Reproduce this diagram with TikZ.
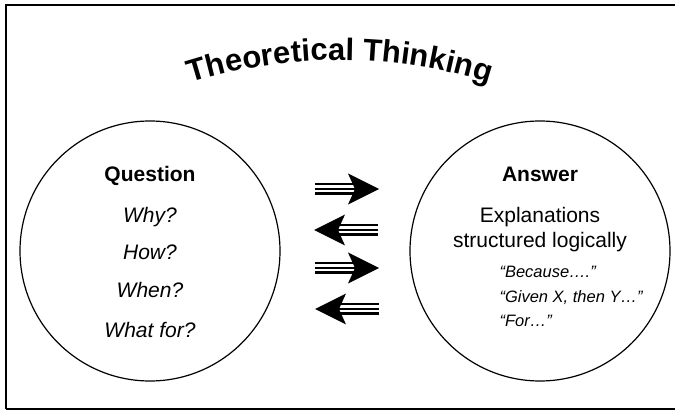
\documentclass[tikz,border=0pt]{standalone}
\usepackage{fontspec}
\setmainfont{Liberation Sans}
\usetikzlibrary{decorations.text}
\newcommand\TripleArrow[2]{% #1 = tail coordinate, #2 = 1 (right) or -1 (left)
\begin{scope}[shift={(#1)},xscale=#2]
\draw[line width=12pt] (0,0) -- (40,0);
\draw[line width=7pt,color=white] (0,0) -- (40,0);
\draw[line width=2.5pt] (0,0) -- (40,0);
\fill (64,0) -- (33,15.5) -- (40,0) -- (33,-15.5) -- cycle;
\end{scope}}

\begin{document}
\begin{tikzpicture}[x=1pt,y=1pt,
  ring/.style={circle,draw,line width=1.2pt,minimum size=260pt,inner sep=0pt},
  head/.style={anchor=base,font=\bfseries\fontsize{21}{25}\selectfont},
  ask/.style={anchor=base,font=\itshape\fontsize{21}{25}\selectfont},
  quote/.style={anchor=base west,font=\itshape\fontsize{16.5}{20}\selectfont}]
\useasboundingbox (0,0) rectangle (675,410);
% Drawing frame (right side runs off the page)
\draw[line width=2pt] (6,1.5) -- (6,405) -- (675,405);
\draw[line width=2pt] (6,1.5) -- (675,1.5);
% Title on an arc
\coordinate (titlec) at (340,-145);
\path[decorate,decoration={text along path,text align=center,
  text={|\bfseries\fontsize{31}{36}\selectfont|Theoretical Thinking}}]
  (titlec) ++(115:495) arc[start angle=115,end angle=65,radius=495];
% Drawing circles
\node[ring] (question) at (150,159) {};
\node[ring] (answer) at (540,159) {};
% Left circle: questions
\node[head] (qhead) at (150,228) {Question};
\node[ask] (why) at (150,187) {Why?};
\node[ask] (how) at (150,150) {How?};
\node[ask] (when) at (150,112) {When?};
\node[ask] (whatfor) at (150,73) {What for?};
% Right circle: answers
\node[head] (ahead) at (540,228) {Answer};
\node[anchor=base,font=\fontsize{21}{25}\selectfont] (expl) at (540,187) {Explanations};
\node[anchor=base,font=\fontsize{21}{25}\selectfont] (struct) at (540,162) {structured logically};
\node[quote] (because) at (496,132) {“Because….”};
\node[quote] (given) at (496,107) {“Given X, then Y…”};
\node[quote] (for) at (496,83) {“For…”};
% Drawing arrows
\coordinate (arr1) at (315,221);
\coordinate (arr2) at (378,180);
\coordinate (arr3) at (315,142);
\coordinate (arr4) at (379,101);
\TripleArrow{arr1}{1}
\TripleArrow{arr2}{-1}
\TripleArrow{arr3}{1}
\TripleArrow{arr4}{-1}
% Done with arrows
\end{tikzpicture}
\end{document}
